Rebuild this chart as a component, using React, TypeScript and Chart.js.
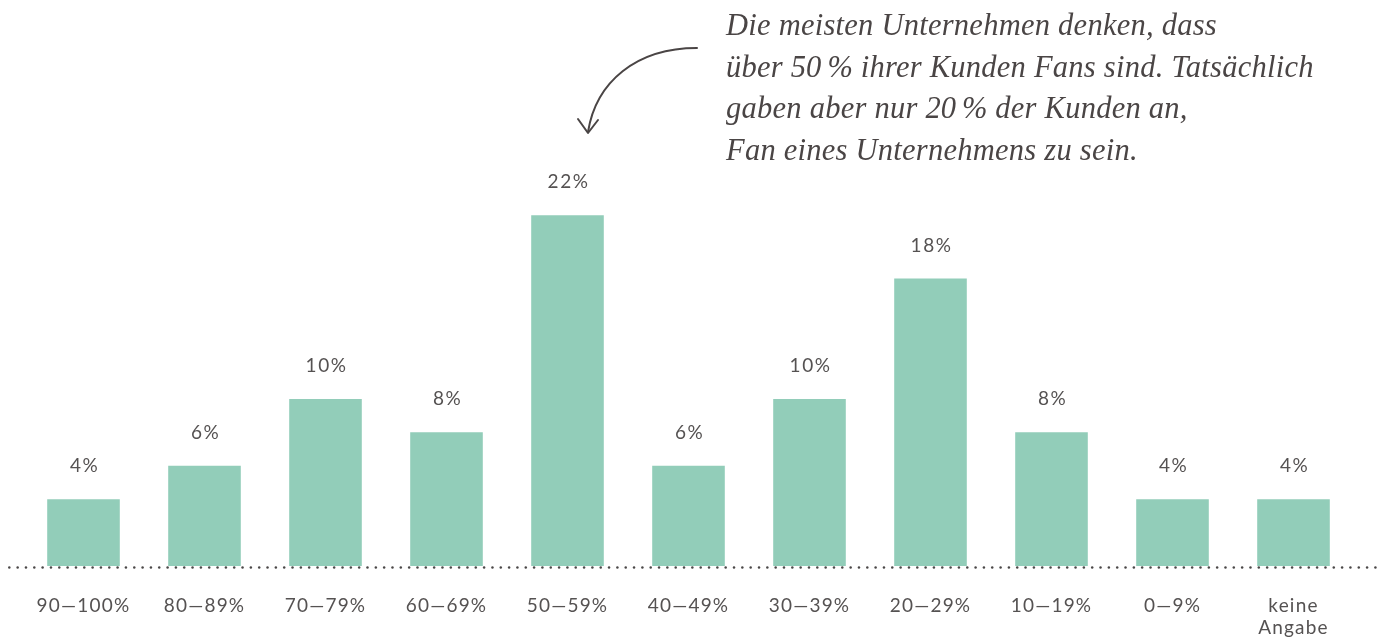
import React, { useEffect, useRef } from "react";
import { Chart, registerables } from "chart.js";

Chart.register(...registerables);

const categories: (string | string[])[] = [
  "90—100%",
  "80—89%",
  "70—79%",
  "60—69%",
  "50—59%",
  "40—49%",
  "30—39%",
  "20—29%",
  "10—19%",
  "0—9%",
  ["keine", "Angabe"],
];
const barValues = [4, 6, 10, 8, 21, 6, 10, 17.2, 8, 4, 4];
const valueLabels = ["4%", "6%", "10%", "8%", "22%", "6%", "10%", "18%", "8%", "4%", "4%"];
const annotationLines = [
  "Die meisten Unternehmen denken, dass",
  "über 50\u202F% ihrer Kunden Fans sind. Tatsächlich",
  "gaben aber nur 20\u202F% der Kunden an,",
  "Fan eines Unternehmens zu sein.",
];

const BAR = "#92CDB9";
const TEXT = "#555252";
const SANS = "Lato, 'Noto Sans', sans-serif";

const decorPlugin = {
  id: "decor",
  beforeDraw(chart: any) {
    (chart.ctx as any).letterSpacing = "1.2px";
  },
  afterDraw(chart: any) {
    const ctx: CanvasRenderingContext2D = chart.ctx;
    const meta = chart.getDatasetMeta(0);
    ctx.save();
    // value labels
    ctx.fillStyle = TEXT;
    ctx.font = `19px ${SANS}`;
    (ctx as any).letterSpacing = "1.5px";
    ctx.textAlign = "center";
    ctx.textBaseline = "middle";
    meta.data.forEach((el: any, i: number) => {
      ctx.fillText(valueLabels[i], el.x + 1, el.y - 33);
    });
    // dotted baseline
    const y0 = chart.scales.y.getPixelForValue(0) + 1.5;
    ctx.fillStyle = "#4a4747";
    for (let x = 9.3; x < chart.width - 1; x += 8.33) {
      ctx.beginPath();
      ctx.arc(x, y0, 1.25, 0, Math.PI * 2);
      ctx.fill();
    }
    // annotation
    (ctx as any).letterSpacing = "0.25px";
    ctx.fillStyle = "#4a4545";
    ctx.textAlign = "left";
    ctx.textBaseline = "middle";
    ctx.font = `italic 30.5px 'Liberation Serif', 'DejaVu Serif', serif`;
    annotationLines.forEach((l, i) => {
      ctx.fillText(l, 726, 27 + i * 41.7);
    });
    // arrow
    ctx.strokeStyle = "#4a4545";
    ctx.lineWidth = 2;
    ctx.lineCap = "round";
    ctx.lineJoin = "round";
    ctx.beginPath();
    ctx.moveTo(697, 48);
    ctx.bezierCurveTo(636, 48, 596, 82, 588, 132);
    ctx.stroke();
    ctx.beginPath();
    ctx.moveTo(578, 119);
    ctx.lineTo(588, 133);
    ctx.lineTo(598, 120);
    ctx.stroke();
    ctx.restore();
  },
};

export default function App() {
  const ref = useRef<HTMLCanvasElement>(null);
  useEffect(() => {
    if (!ref.current) return;
    const chart = new Chart(ref.current, {
      type: "bar",
      data: {
        labels: categories,
        datasets: [
          {
            data: barValues,
            backgroundColor: BAR,
            barPercentage: 0.6,
            categoryPercentage: 1,
          },
        ],
      },
      options: {
        responsive: false,
        animation: false,
        layout: { padding: { left: 23, right: 23, top: 165, bottom: 0 } },
        plugins: { legend: { display: false }, tooltip: { enabled: false } },
        scales: {
          x: {
            grid: { display: false, drawTicks: false },
            border: { display: false },
            ticks: {
              color: TEXT,
              font: { family: SANS, size: 19, lineHeight: 1.2 },
              padding: 28,
              maxRotation: 0,
              autoSkip: false,
            },
            afterFit(axis: any) {
              axis.height = 72;
            },
          },
          y: { display: false, min: 0, max: 24 },
        },
      },
      plugins: [decorPlugin],
    });
    return () => chart.destroy();
  }, []);
  return (
    <div style={{ position: "absolute", left: 0, top: 0, width: 1377, height: 638 }}>
      <canvas ref={ref} width={1377} height={638} style={{ display: "block" }} />
    </div>
  );
}
